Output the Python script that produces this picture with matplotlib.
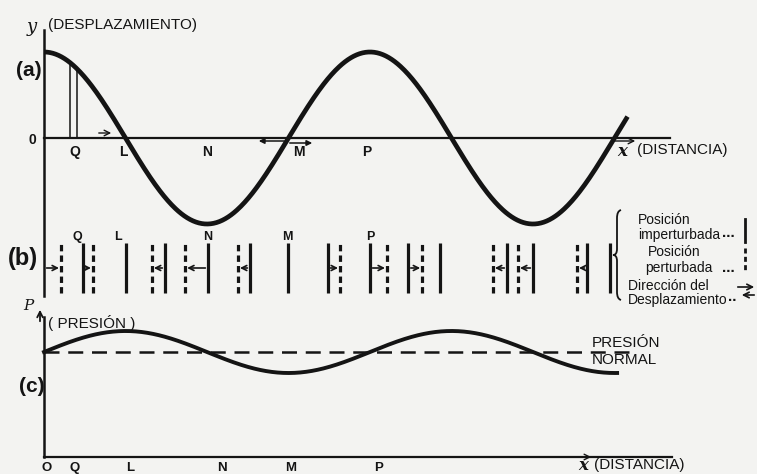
import numpy as np
import matplotlib
matplotlib.use('Agg')
import matplotlib.pyplot as plt
from matplotlib.path import Path
from matplotlib.patches import PathPatch

plt.rcParams.update({'font.family': ['Liberation Sans', 'DejaVu Sans']})

# ---------------------------------------------------------------------------
# Data: distance measured in wavelengths (lambda = 1)
# ---------------------------------------------------------------------------
disp_end = 1.79          # last x of displacement curve (a)
press_end = 1.758        # last x of pressure curve (c)
normal_end = 1.807       # end of the "normal pressure" dashed line

labels_a = ['Q', 'L', 'N', 'M', 'P']
labels_a_x = [0.095, 0.242, 0.500, 0.782, 0.991]
labels_b_x = [0.101, 0.227, 0.503, 0.748, 1.000]
labels_c = ['O', 'Q', 'L', 'N', 'M', 'P']
labels_c_x = [0.009, 0.095, 0.264, 0.546, 0.758, 1.025]

q_lines = [0.080, 0.101]   # the two thin lines at Q in (a)

# layers of air: undisturbed (solid) and disturbed (dashed) positions
undisturbed = [0.0, 0.120, 0.252, 0.371, 0.503, 0.632, 0.748, 0.871,
               1.000, 1.117, 1.215, 1.420, 1.500, 1.666, 1.736]
disturbed = [0.052, 0.150, None, 0.331, 0.433, 0.595, None, 0.908,
             1.052, 1.160, None, 1.377, 1.454, 1.635, None]

# ---------------------------------------------------------------------------
PX = 326.0                       # pixels per wavelength (layout only)
def fx(px):
    return (px - 44) / PX

INK = '#141414'
W, H = 757, 474
fig = plt.figure(figsize=(W / 100, H / 100), dpi=100, facecolor='#f3f3f1')

def make_ax(top, bottom, ylim):
    ax = fig.add_axes([0, 1 - bottom / H, 1, (bottom - top) / H])
    ax.set_xlim(fx(0), fx(W))
    ax.set_ylim(*ylim)
    ax.axis('off')
    ax.patch.set_alpha(0)
    return ax

# (a) rows 0..240, baseline row 138, 86 px per unit
ax_a = make_ax(0, 240, ((138 - 240) / 86, 138 / 86))
def ya(r):
    return (138 - r) / 86

# (b) rows 225..310, layer lines from row 293 (0) to row 243 (1)
ax_b = make_ax(225, 310, ((293 - 310) / 50, (293 - 225) / 50))
def yb(r):
    return (293 - r) / 50

# (c) rows 300..474, normal pressure at row 352, 21 px per unit
ax_c = make_ax(300, 474, ((352 - 474) / 21, (352 - 300) / 21))
def yc(r):
    return (352 - r) / 21

bold = dict(fontweight='bold', color=INK)
TXT = 11

# ---------------------------- panel (a) ------------------------------------
x = np.linspace(0, disp_end, 600)
ax_a.plot(x, np.cos(2 * np.pi * x), color=INK, lw=3.4, solid_capstyle='butt')
ax_a.plot([0, 0], [ya(30), ya(296)], color=INK, lw=1.8, clip_on=False)
ax_a.plot([0, fx(670)], [0, 0], color=INK, lw=1.6)
for q in q_lines:
    ax_a.plot([q, q], [0, np.cos(2 * np.pi * q)], color=INK, lw=1.1)

ax_a.text(fx(32), ya(27), 'y', fontsize=13, style='italic', family='DejaVu Serif',
          ha='center', va='center', color=INK)
ax_a.text(fx(48), ya(25), '(DESPLAZAMIENTO)', fontsize=TXT, ha='left',
          va='center', color=INK)
ax_a.text(fx(29), ya(70), '(a)', fontsize=15, ha='center', va='center', **bold)
ax_a.text(fx(32), ya(140), '0', fontsize=10, ha='center', va='center', **bold)
for lab, lx in zip(labels_a, labels_a_x):
    ax_a.text(lx, ya(152), lab, fontsize=10, ha='center', va='center', **bold)

ax_a.annotate('', xy=(fx(114), ya(133)), xytext=(fx(96), ya(133)),
              arrowprops=dict(arrowstyle='->', lw=1.0, color=INK))
ax_a.annotate('', xy=(fx(256), ya(141)), xytext=(fx(287), ya(141)),
              arrowprops=dict(arrowstyle='-|>', lw=1.1, color=INK,
                              mutation_scale=8))
ax_a.annotate('', xy=(fx(315), ya(143)), xytext=(fx(287), ya(143)),
              arrowprops=dict(arrowstyle='-|>', lw=1.1, color=INK,
                              mutation_scale=8))
ax_a.annotate('', xy=(fx(638), ya(141)), xytext=(fx(612), ya(141)),
              arrowprops=dict(arrowstyle='->', lw=1.0, color=INK))
ax_a.text(fx(622), ya(152), 'x', fontsize=12, style='italic', fontweight='bold',
          family='DejaVu Serif', ha='center', va='center', color=INK)
ax_a.text(fx(637), ya(150), '(DISTANCIA)', fontsize=TXT, ha='left',
          va='center', color=INK)

# ---------------------------- panel (b) ------------------------------------
ax_b.text(fx(23), yb(258), '(b)', fontsize=17, ha='center', va='center', **bold)
for lab, lx in zip(labels_a, labels_b_x):
    ax_b.text(lx, yb(237), lab, fontsize=9, ha='center', va='center', **bold)

for u, d in zip(undisturbed, disturbed):
    if u > 0:
        ax_b.plot([u, u], [0, 1], color=INK, lw=2.3, solid_capstyle='butt')
    if d is None:
        continue
    ax_b.plot([d, d], [0, 1], color=INK, lw=2.3, ls=(0, (2.0, 1.3)))
    s = np.sign(d - u)
    ax_b.annotate('', xy=(d - s * 0.006, 0.5), xytext=(u + s * 0.008, 0.5),
                  arrowprops=dict(arrowstyle='->', lw=1.2, color=INK,
                                  shrinkA=0, shrinkB=0, mutation_scale=9))

# brace of the key
bx = [621, 617, 617, 617, 617, 613, 617, 617, 617, 617, 621]
by = [210, 211, 218, 249, 255, 255, 255, 261, 292, 299, 300]
verts = [(fx(a), yb(b)) for a, b in zip(bx, by)]
codes = [Path.MOVETO, Path.CURVE3, Path.CURVE3, Path.LINETO, Path.CURVE3,
         Path.CURVE3, Path.CURVE3, Path.CURVE3, Path.LINETO, Path.CURVE3,
         Path.CURVE3]
ax_b.add_patch(PathPatch(Path(verts, codes), fill=False, lw=1.3,
                         edgecolor=INK, clip_on=False))

key_fs = 10
ax_b.text(fx(638), yb(220), 'Posición', fontsize=key_fs, ha='left', va='center', color=INK)
ax_b.text(fx(638), yb(235), 'imperturbada', fontsize=key_fs, ha='left', va='center', color=INK)
ax_b.text(fx(648), yb(252), 'Posición', fontsize=key_fs, ha='left', va='center', color=INK)
ax_b.text(fx(645), yb(268), 'perturbada', fontsize=key_fs, ha='left', va='center', color=INK)
ax_b.text(fx(628), yb(286), 'Dirección del', fontsize=key_fs, ha='left', va='center', color=INK)
ax_b.text(fx(628), yb(300), 'Desplazamiento', fontsize=key_fs, ha='left', va='center', color=INK)
for r in (240, 275, 304):
    ax_b.text(fx(722) if r != 304 else fx(728), yb(r), '...' if r != 304 else '..',
              fontsize=11, ha='left', va='bottom', clip_on=False, **bold)
ax_b.plot([fx(745), fx(745)], [yb(219), yb(242)], color=INK, lw=2.0, clip_on=False)
ax_b.plot([fx(745), fx(745)], [yb(248), yb(272)], color=INK, lw=2.0,
          ls=(0, (1.8, 1.2)), clip_on=False)
ax_b.annotate('', xy=(fx(757), yb(287)), xytext=(fx(735), yb(287)),
              arrowprops=dict(arrowstyle='->', lw=1.2, color=INK), annotation_clip=False)
ax_b.annotate('', xy=(fx(739), yb(295)), xytext=(fx(757), yb(295)),
              arrowprops=dict(arrowstyle='->', lw=1.2, color=INK), annotation_clip=False)

# ---------------------------- panel (c) ------------------------------------
xc = np.linspace(0, press_end, 600)
ax_c.plot(xc, np.sin(2 * np.pi * xc), color=INK, lw=2.8)
ax_c.plot([0, normal_end], [0, 0], color=INK, lw=1.8, ls=(0, (6, 3.5)))
ax_c.plot([0, 0], [yc(317), yc(457)], color=INK, lw=1.8)
ax_c.plot([0, fx(672)], [yc(457), yc(457)], color=INK, lw=1.6)

ax_c.text(fx(28), yc(306), 'P', fontsize=11, style='italic', family='DejaVu Serif',
          ha='center', va='center', color=INK)
ax_c.annotate('', xy=(fx(40), yc(307)), xytext=(fx(40), yc(324)),
              arrowprops=dict(arrowstyle='->', lw=1.3, color=INK))
ax_c.text(fx(48), yc(323), '( PRESIÓN )', fontsize=TXT, ha='left', va='center', color=INK)
ax_c.text(fx(32), yc(386), '(c)', fontsize=15, ha='center', va='center', **bold)
ax_c.text(fx(592), yc(343), 'PRESIÓN', fontsize=TXT, ha='left', va='center', color=INK)
ax_c.text(fx(592), yc(360), 'NORMAL', fontsize=TXT, ha='left', va='center', color=INK)
for lab, lx in zip(labels_c, labels_c_x):
    ax_c.text(lx, yc(468), lab, fontsize=9.5, ha='center', va='center', **bold)
ax_c.annotate('', xy=(fx(594), yc(457)), xytext=(fx(574), yc(457)),
              arrowprops=dict(arrowstyle='->', lw=1.0, color=INK))
ax_c.text(fx(583), yc(465), 'x', fontsize=12, style='italic', fontweight='bold',
          family='DejaVu Serif', ha='center', va='center', color=INK)
ax_c.text(fx(594), yc(465), '(DISTANCIA)', fontsize=TXT, ha='left',
          va='center', color=INK)

fig.savefig('out.png', dpi=100, facecolor=fig.get_facecolor())
